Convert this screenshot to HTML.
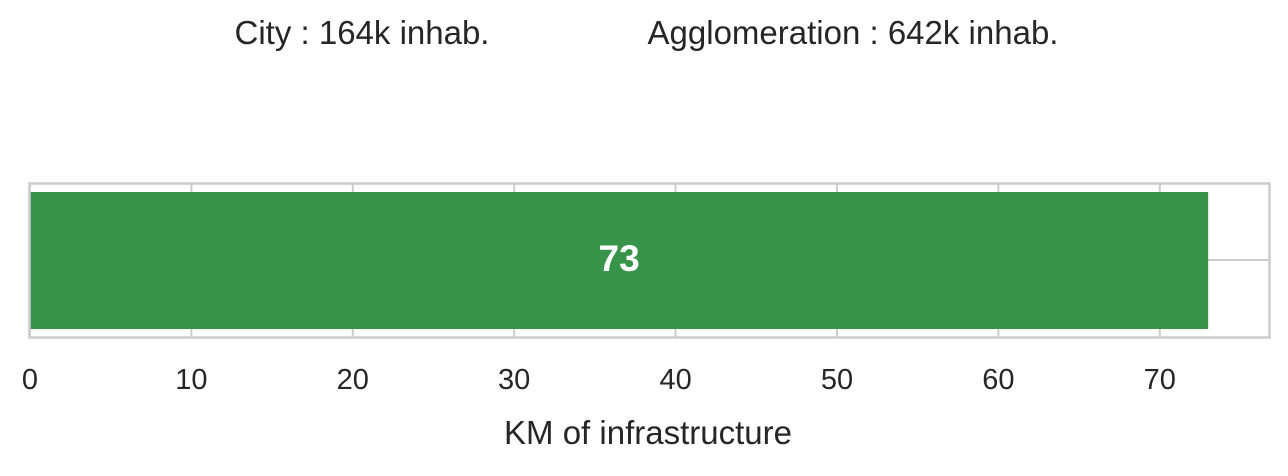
<!DOCTYPE html>
<html><head><meta charset="utf-8"><style>
html,body{margin:0;padding:0;background:#fff;}
svg text{font-family:"Liberation Sans",Arial,sans-serif;fill:#262626;}
</style></head><body>
<svg width="1288" height="471" viewBox="0 0 1288 471">
<text x="362" y="44" font-size="33" text-anchor="middle">City : 164k inhab.</text>
<text x="853" y="44" font-size="33" text-anchor="middle">Agglomeration : 642k inhab.</text>
<g id="grid"></g>
<g id="bars"></g>
<rect x="29.5" y="183.5" width="1240" height="154" fill="none" stroke="#cccccc" stroke-width="2.5"/>
<g id="ticks"></g>
<text x="648" y="444" font-size="33" text-anchor="middle">KM of infrastructure</text>
</svg>
<script>
const categories = ["Infrastructure"];
const values = [73];
const tickValues = [0,10,20,30,40,50,60,70];
const xMax = 76.8;
const NS = "http://www.w3.org/2000/svg";
const x0 = 30, x1 = 1269.5;
function xs(v){ return x0 + (x1 - x0) * v / xMax; }
const grid = document.getElementById('grid');
const ticks = document.getElementById('ticks');
const bars = document.getElementById('bars');
tickValues.forEach(t => {
  const l = document.createElementNS(NS,'line');
  l.setAttribute('x1', xs(t)); l.setAttribute('x2', xs(t));
  l.setAttribute('y1', 184); l.setAttribute('y2', 337);
  l.setAttribute('stroke', '#cccccc'); l.setAttribute('stroke-width', '2');
  
  
  grid.appendChild(l);
  const tx = document.createElementNS(NS,'text');
  tx.setAttribute('x', xs(t)); tx.setAttribute('y', 389);
  tx.setAttribute('font-size', '29'); tx.setAttribute('text-anchor', 'middle');
  tx.textContent = t;
  
  
  ticks.appendChild(tx);
});
const hg = document.createElementNS(NS,'line');
hg.setAttribute('x1', 30); hg.setAttribute('x2', 1269);
hg.setAttribute('y1', 260); hg.setAttribute('y2', 260);
hg.setAttribute('stroke', '#cccccc'); hg.setAttribute('stroke-width', '2');


grid.appendChild(hg);
values.forEach((v, i) => {
  const r = document.createElementNS(NS,'rect');
  r.setAttribute('x', xs(0)); r.setAttribute('y', 192);
  r.setAttribute('width', xs(v) - xs(0)); r.setAttribute('height', 137);
  r.setAttribute('fill', '#38944a');
  
  
  bars.appendChild(r);
  const t = document.createElementNS(NS,'text');
  t.setAttribute('x', (xs(0) + xs(v)) / 2); t.setAttribute('y', 271);
  t.setAttribute('font-size', '37'); t.setAttribute('font-weight', 'bold');
  t.setAttribute('text-anchor', 'middle'); t.setAttribute('style', 'fill:#fff');
  t.textContent = v;
  
  
  bars.appendChild(t);
});
</script>
</body></html>
